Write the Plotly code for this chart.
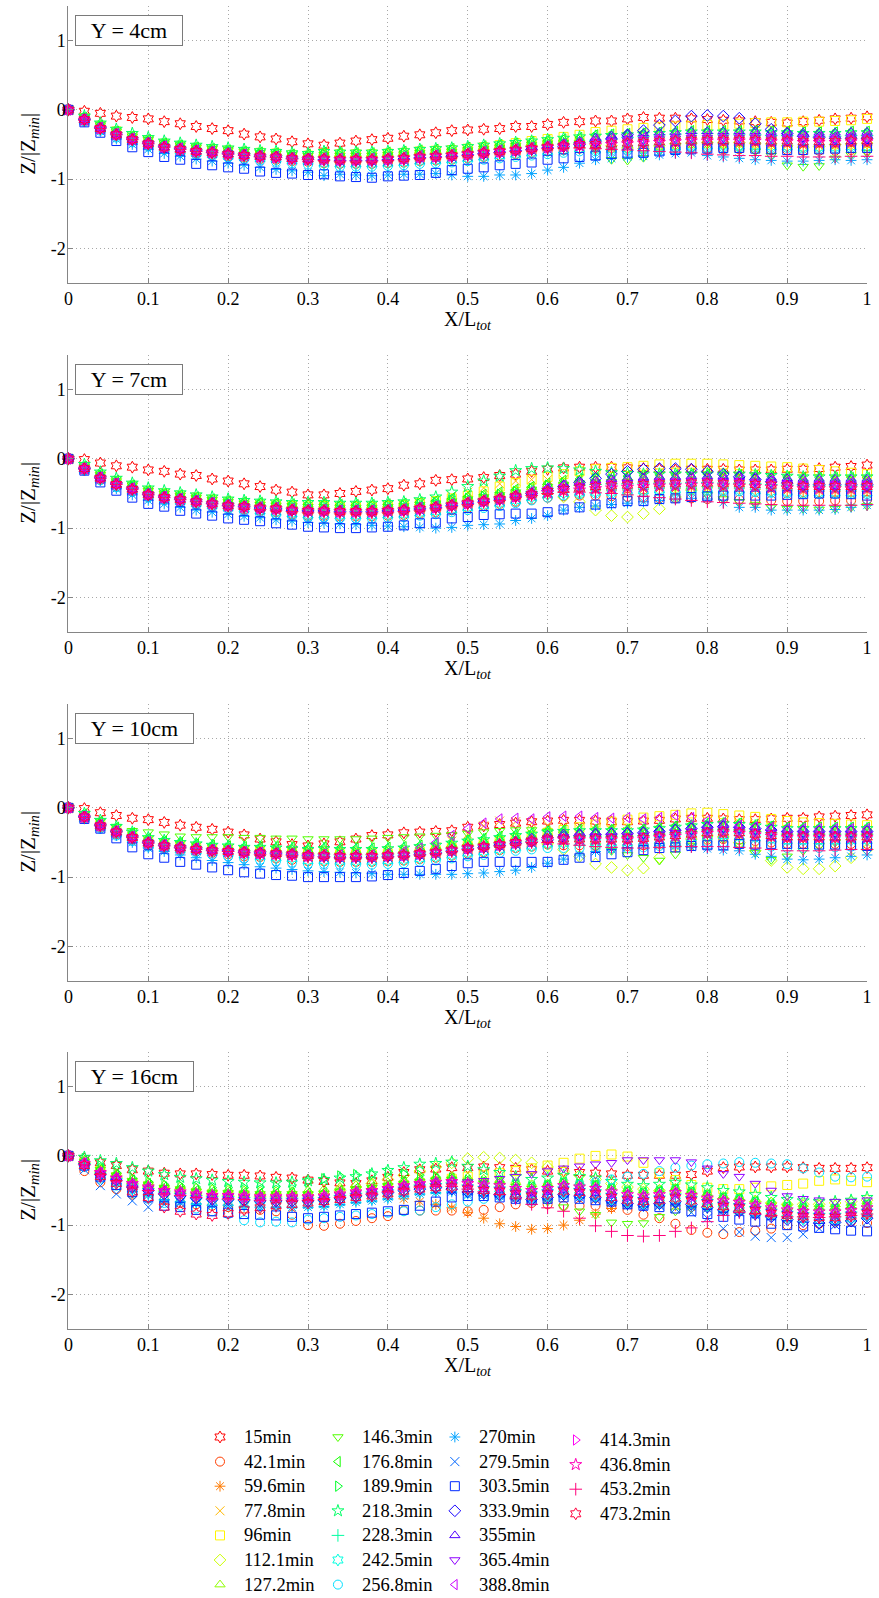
import plotly.graph_objects as go

# Sampling positions along the flume, X / L_tot
X_POS = [0, 0.02, 0.04, 0.06, 0.08, 0.10, 0.12, 0.14, 0.16, 0.18, 0.20,
         0.22, 0.24, 0.26, 0.28, 0.30, 0.32, 0.34, 0.36, 0.38, 0.40,
         0.42, 0.44, 0.46, 0.48, 0.50, 0.52, 0.54, 0.56, 0.58, 0.60,
         0.62, 0.64, 0.66, 0.68, 0.70, 0.72, 0.74, 0.76, 0.78, 0.80,
         0.82, 0.84, 0.86, 0.88, 0.90, 0.92, 0.94, 0.96, 0.98, 1.00]

TIMES = ["15min", "42.1min", "59.6min", "77.8min", "96min", "112.1min", "127.2min",
         "146.3min", "176.8min", "189.9min", "218.3min", "228.3min", "242.5min", "256.8min",
         "270min", "279.5min", "303.5min", "333.9min", "355min", "365.4min", "388.8min",
         "414.3min", "436.8min", "453.2min", "473.2min"]

SYMBOLS = ["hexagram-open", "circle-open", "asterisk-open", "x-thin-open", "square-open",
           "diamond-open", "triangle-up-open", "triangle-down-open", "triangle-left-open",
           "triangle-right-open", "star-open", "cross-thin-open", "hexagram-open", "circle-open",
           "asterisk-open", "x-thin-open", "square-open", "diamond-open", "triangle-up-open",
           "triangle-down-open", "triangle-left-open", "triangle-right-open", "star-open",
           "cross-thin-open", "hexagram-open"]

COLORS = ["#ff0000", "#ff3d00", "#ff7a00", "#ffb800", "#fff500", "#ccff00", "#8fff00",
          "#52ff00", "#14ff00", "#00ff29", "#00ff66", "#00ffa3", "#00ffe0", "#00e0ff",
          "#00a3ff", "#0066ff", "#0029ff", "#1400ff", "#5200ff", "#8f00ff", "#cc00ff",
          "#ff00f5", "#ff00b8", "#ff007a", "#ff003d"]

PANEL_LABELS = ["Y = 4cm", "Y = 7cm", "Y = 10cm", "Y = 16cm"]

Z_Y4 = [
    [0, -0.02, -0.05, -0.09, -0.11, -0.13, -0.17, -0.20, -0.24, -0.27, -0.30, -0.35, -0.39, -0.42, -0.46, -0.49, -0.51, -0.48, -0.45, -0.43, -0.41, -0.38, -0.36, -0.33, -0.30, -0.29, -0.28, -0.27, -0.24, -0.24, -0.21, -0.18, -0.17, -0.16, -0.16, -0.13, -0.11, -0.12, -0.12, -0.13, -0.14, -0.15, -0.16, -0.17, -0.18, -0.19, -0.17, -0.15, -0.13, -0.12, -0.10],
    [0, -0.16, -0.28, -0.37, -0.44, -0.52, -0.57, -0.60, -0.63, -0.65, -0.67, -0.69, -0.71, -0.72, -0.74, -0.75, -0.77, -0.78, -0.78, -0.78, -0.77, -0.76, -0.74, -0.73, -0.72, -0.70, -0.68, -0.66, -0.64, -0.62, -0.60, -0.58, -0.56, -0.55, -0.55, -0.55, -0.55, -0.54, -0.54, -0.55, -0.56, -0.57, -0.57, -0.57, -0.58, -0.58, -0.59, -0.59, -0.59, -0.58, -0.58],
    [0, -0.13, -0.25, -0.35, -0.43, -0.49, -0.53, -0.57, -0.59, -0.62, -0.63, -0.66, -0.67, -0.69, -0.70, -0.72, -0.74, -0.75, -0.75, -0.75, -0.74, -0.73, -0.71, -0.70, -0.69, -0.67, -0.65, -0.63, -0.61, -0.59, -0.57, -0.55, -0.53, -0.56, -0.55, -0.54, -0.53, -0.52, -0.51, -0.50, -0.50, -0.50, -0.50, -0.50, -0.51, -0.51, -0.52, -0.52, -0.52, -0.51, -0.51],
    [0, -0.12, -0.23, -0.32, -0.39, -0.45, -0.50, -0.53, -0.56, -0.58, -0.60, -0.62, -0.64, -0.65, -0.67, -0.68, -0.66, -0.67, -0.67, -0.67, -0.66, -0.65, -0.63, -0.62, -0.61, -0.59, -0.57, -0.55, -0.53, -0.51, -0.49, -0.47, -0.45, -0.41, -0.40, -0.39, -0.38, -0.37, -0.36, -0.35, -0.35, -0.35, -0.35, -0.35, -0.36, -0.36, -0.37, -0.37, -0.37, -0.36, -0.36],
    [0, -0.12, -0.23, -0.31, -0.38, -0.44, -0.49, -0.52, -0.55, -0.57, -0.59, -0.61, -0.62, -0.63, -0.65, -0.66, -0.63, -0.64, -0.64, -0.64, -0.63, -0.62, -0.60, -0.59, -0.58, -0.56, -0.54, -0.51, -0.48, -0.45, -0.42, -0.39, -0.36, -0.32, -0.30, -0.28, -0.26, -0.25, -0.24, -0.23, -0.22, -0.21, -0.20, -0.19, -0.18, -0.18, -0.17, -0.17, -0.16, -0.15, -0.13],
    [0, -0.13, -0.24, -0.33, -0.40, -0.46, -0.51, -0.54, -0.57, -0.59, -0.61, -0.63, -0.65, -0.66, -0.68, -0.69, -0.67, -0.68, -0.68, -0.68, -0.67, -0.66, -0.64, -0.63, -0.62, -0.60, -0.58, -0.56, -0.54, -0.52, -0.50, -0.49, -0.48, -0.50, -0.52, -0.55, -0.56, -0.52, -0.49, -0.48, -0.47, -0.47, -0.47, -0.48, -0.49, -0.52, -0.54, -0.53, -0.50, -0.49, -0.48],
    [0, -0.10, -0.21, -0.30, -0.37, -0.43, -0.47, -0.50, -0.53, -0.55, -0.57, -0.59, -0.61, -0.62, -0.64, -0.65, -0.62, -0.63, -0.63, -0.63, -0.62, -0.61, -0.59, -0.58, -0.57, -0.55, -0.53, -0.51, -0.49, -0.47, -0.45, -0.43, -0.41, -0.40, -0.40, -0.39, -0.38, -0.37, -0.36, -0.36, -0.36, -0.36, -0.36, -0.36, -0.37, -0.37, -0.38, -0.38, -0.38, -0.37, -0.37],
    [0, -0.11, -0.22, -0.31, -0.38, -0.43, -0.48, -0.51, -0.54, -0.56, -0.58, -0.60, -0.62, -0.63, -0.65, -0.66, -0.65, -0.66, -0.66, -0.66, -0.65, -0.64, -0.62, -0.61, -0.60, -0.58, -0.56, -0.54, -0.52, -0.50, -0.48, -0.47, -0.48, -0.55, -0.72, -0.73, -0.69, -0.60, -0.52, -0.50, -0.50, -0.52, -0.55, -0.60, -0.66, -0.80, -0.82, -0.81, -0.70, -0.65, -0.62],
    [0, -0.11, -0.22, -0.31, -0.38, -0.43, -0.48, -0.51, -0.54, -0.56, -0.58, -0.60, -0.61, -0.62, -0.64, -0.64, -0.61, -0.62, -0.62, -0.62, -0.61, -0.60, -0.58, -0.57, -0.56, -0.54, -0.52, -0.50, -0.48, -0.46, -0.44, -0.42, -0.40, -0.36, -0.35, -0.34, -0.33, -0.32, -0.31, -0.30, -0.30, -0.30, -0.30, -0.30, -0.31, -0.31, -0.32, -0.32, -0.32, -0.31, -0.31],
    [0, -0.12, -0.23, -0.32, -0.39, -0.44, -0.49, -0.52, -0.55, -0.57, -0.59, -0.61, -0.63, -0.64, -0.66, -0.67, -0.64, -0.65, -0.65, -0.65, -0.64, -0.63, -0.61, -0.60, -0.59, -0.57, -0.55, -0.53, -0.51, -0.49, -0.47, -0.45, -0.43, -0.40, -0.39, -0.38, -0.37, -0.36, -0.35, -0.34, -0.34, -0.34, -0.34, -0.34, -0.35, -0.35, -0.36, -0.36, -0.36, -0.35, -0.35],
    [0, -0.09, -0.19, -0.28, -0.34, -0.40, -0.45, -0.48, -0.51, -0.53, -0.55, -0.57, -0.59, -0.60, -0.62, -0.63, -0.60, -0.61, -0.61, -0.61, -0.60, -0.59, -0.57, -0.56, -0.55, -0.53, -0.51, -0.49, -0.47, -0.45, -0.43, -0.41, -0.39, -0.38, -0.37, -0.36, -0.35, -0.34, -0.33, -0.32, -0.32, -0.32, -0.32, -0.32, -0.33, -0.33, -0.34, -0.34, -0.34, -0.33, -0.33],
    [0, -0.13, -0.25, -0.33, -0.40, -0.46, -0.51, -0.54, -0.57, -0.59, -0.61, -0.63, -0.65, -0.66, -0.68, -0.69, -0.68, -0.69, -0.69, -0.69, -0.68, -0.67, -0.65, -0.64, -0.63, -0.61, -0.59, -0.57, -0.55, -0.53, -0.51, -0.49, -0.47, -0.44, -0.42, -0.40, -0.38, -0.36, -0.35, -0.34, -0.34, -0.35, -0.35, -0.36, -0.37, -0.37, -0.38, -0.38, -0.38, -0.37, -0.37],
    [0, -0.16, -0.28, -0.38, -0.45, -0.51, -0.56, -0.59, -0.62, -0.64, -0.66, -0.68, -0.70, -0.71, -0.73, -0.74, -0.77, -0.78, -0.78, -0.78, -0.77, -0.76, -0.74, -0.73, -0.72, -0.70, -0.68, -0.66, -0.64, -0.62, -0.60, -0.58, -0.56, -0.58, -0.57, -0.56, -0.55, -0.54, -0.53, -0.52, -0.52, -0.52, -0.52, -0.52, -0.53, -0.53, -0.54, -0.54, -0.54, -0.53, -0.53],
    [0, -0.17, -0.30, -0.40, -0.47, -0.53, -0.58, -0.62, -0.65, -0.67, -0.69, -0.71, -0.73, -0.75, -0.77, -0.79, -0.81, -0.82, -0.82, -0.82, -0.81, -0.80, -0.78, -0.77, -0.76, -0.74, -0.72, -0.70, -0.68, -0.66, -0.64, -0.62, -0.60, -0.60, -0.59, -0.58, -0.57, -0.56, -0.55, -0.54, -0.54, -0.54, -0.54, -0.54, -0.55, -0.55, -0.56, -0.56, -0.56, -0.55, -0.55],
    [0, -0.17, -0.31, -0.42, -0.50, -0.57, -0.63, -0.67, -0.71, -0.74, -0.77, -0.80, -0.83, -0.86, -0.88, -0.90, -0.95, -0.93, -0.94, -0.95, -0.94, -0.93, -0.93, -0.92, -0.94, -0.96, -0.96, -0.94, -0.94, -0.92, -0.87, -0.83, -0.77, -0.72, -0.70, -0.68, -0.67, -0.65, -0.63, -0.62, -0.66, -0.68, -0.70, -0.72, -0.73, -0.74, -0.74, -0.73, -0.72, -0.73, -0.72],
    [0, -0.15, -0.28, -0.37, -0.44, -0.50, -0.55, -0.58, -0.61, -0.63, -0.65, -0.67, -0.69, -0.70, -0.72, -0.73, -0.74, -0.75, -0.75, -0.75, -0.74, -0.73, -0.71, -0.70, -0.69, -0.67, -0.65, -0.63, -0.61, -0.59, -0.57, -0.55, -0.53, -0.53, -0.52, -0.51, -0.50, -0.49, -0.48, -0.47, -0.47, -0.47, -0.47, -0.47, -0.48, -0.48, -0.49, -0.49, -0.49, -0.48, -0.48],
    [0, -0.18, -0.33, -0.45, -0.54, -0.61, -0.68, -0.72, -0.78, -0.80, -0.83, -0.85, -0.89, -0.91, -0.92, -0.94, -0.93, -0.96, -0.97, -0.98, -0.96, -0.95, -0.94, -0.91, -0.87, -0.85, -0.83, -0.80, -0.78, -0.76, -0.72, -0.70, -0.68, -0.66, -0.64, -0.63, -0.62, -0.60, -0.58, -0.57, -0.56, -0.55, -0.55, -0.56, -0.57, -0.58, -0.58, -0.57, -0.56, -0.55, -0.55],
    [0, -0.14, -0.26, -0.35, -0.42, -0.48, -0.53, -0.56, -0.59, -0.61, -0.63, -0.65, -0.67, -0.68, -0.70, -0.71, -0.72, -0.73, -0.73, -0.73, -0.72, -0.71, -0.69, -0.68, -0.67, -0.65, -0.63, -0.61, -0.59, -0.57, -0.55, -0.53, -0.50, -0.46, -0.42, -0.36, -0.30, -0.22, -0.16, -0.09, -0.08, -0.09, -0.12, -0.20, -0.28, -0.34, -0.38, -0.40, -0.41, -0.41, -0.41],
    [0, -0.15, -0.27, -0.36, -0.43, -0.49, -0.54, -0.57, -0.60, -0.62, -0.64, -0.66, -0.68, -0.69, -0.71, -0.72, -0.69, -0.70, -0.70, -0.70, -0.69, -0.68, -0.66, -0.65, -0.64, -0.62, -0.60, -0.58, -0.56, -0.54, -0.51, -0.48, -0.45, -0.40, -0.37, -0.35, -0.34, -0.33, -0.32, -0.31, -0.31, -0.31, -0.31, -0.31, -0.32, -0.32, -0.33, -0.33, -0.33, -0.32, -0.32],
    [0, -0.14, -0.26, -0.35, -0.42, -0.48, -0.53, -0.56, -0.59, -0.61, -0.63, -0.65, -0.67, -0.68, -0.70, -0.71, -0.71, -0.72, -0.72, -0.72, -0.71, -0.70, -0.68, -0.67, -0.66, -0.64, -0.62, -0.60, -0.58, -0.56, -0.54, -0.52, -0.50, -0.46, -0.45, -0.44, -0.43, -0.42, -0.41, -0.40, -0.40, -0.40, -0.40, -0.40, -0.41, -0.41, -0.42, -0.42, -0.42, -0.41, -0.41],
    [0, -0.13, -0.25, -0.34, -0.41, -0.47, -0.52, -0.55, -0.58, -0.60, -0.62, -0.64, -0.66, -0.67, -0.69, -0.70, -0.69, -0.70, -0.70, -0.70, -0.69, -0.68, -0.66, -0.65, -0.64, -0.62, -0.60, -0.58, -0.56, -0.54, -0.52, -0.50, -0.48, -0.43, -0.42, -0.41, -0.40, -0.39, -0.38, -0.37, -0.37, -0.37, -0.37, -0.37, -0.38, -0.38, -0.39, -0.39, -0.39, -0.38, -0.38],
    [0, -0.14, -0.27, -0.36, -0.43, -0.49, -0.54, -0.57, -0.60, -0.62, -0.64, -0.66, -0.68, -0.69, -0.71, -0.72, -0.72, -0.73, -0.73, -0.73, -0.72, -0.71, -0.69, -0.68, -0.67, -0.65, -0.63, -0.61, -0.59, -0.57, -0.55, -0.53, -0.51, -0.47, -0.46, -0.45, -0.44, -0.43, -0.42, -0.41, -0.41, -0.41, -0.41, -0.41, -0.42, -0.42, -0.43, -0.43, -0.43, -0.42, -0.42],
    [0, -0.15, -0.27, -0.36, -0.43, -0.49, -0.54, -0.57, -0.60, -0.62, -0.64, -0.66, -0.68, -0.69, -0.71, -0.72, -0.71, -0.72, -0.72, -0.72, -0.71, -0.70, -0.68, -0.67, -0.66, -0.64, -0.62, -0.60, -0.58, -0.56, -0.54, -0.53, -0.52, -0.51, -0.50, -0.49, -0.48, -0.47, -0.46, -0.45, -0.45, -0.45, -0.45, -0.45, -0.46, -0.46, -0.47, -0.47, -0.47, -0.46, -0.46],
    [0, -0.15, -0.27, -0.36, -0.43, -0.49, -0.54, -0.57, -0.60, -0.62, -0.64, -0.66, -0.68, -0.69, -0.71, -0.72, -0.73, -0.74, -0.74, -0.74, -0.73, -0.72, -0.70, -0.69, -0.68, -0.66, -0.64, -0.62, -0.60, -0.58, -0.56, -0.55, -0.55, -0.56, -0.57, -0.58, -0.59, -0.60, -0.61, -0.62, -0.64, -0.65, -0.66, -0.66, -0.67, -0.67, -0.68, -0.68, -0.68, -0.67, -0.67],
    [0, -0.14, -0.27, -0.36, -0.43, -0.49, -0.54, -0.57, -0.60, -0.62, -0.64, -0.66, -0.67, -0.68, -0.70, -0.71, -0.71, -0.72, -0.72, -0.72, -0.71, -0.70, -0.68, -0.67, -0.66, -0.64, -0.62, -0.60, -0.58, -0.56, -0.54, -0.52, -0.50, -0.50, -0.49, -0.48, -0.47, -0.46, -0.45, -0.44, -0.44, -0.44, -0.44, -0.44, -0.45, -0.45, -0.46, -0.46, -0.46, -0.45, -0.45],
]

Z_Y7 = [
    [0, -0.01, -0.06, -0.10, -0.12, -0.16, -0.18, -0.22, -0.24, -0.29, -0.32, -0.36, -0.40, -0.45, -0.48, -0.52, -0.52, -0.50, -0.47, -0.45, -0.43, -0.38, -0.36, -0.31, -0.30, -0.29, -0.27, -0.24, -0.22, -0.18, -0.15, -0.13, -0.12, -0.12, -0.12, -0.13, -0.14, -0.15, -0.16, -0.15, -0.15, -0.15, -0.16, -0.16, -0.16, -0.15, -0.15, -0.14, -0.12, -0.11, -0.09],
    [0, -0.16, -0.30, -0.40, -0.47, -0.55, -0.59, -0.62, -0.65, -0.68, -0.71, -0.73, -0.75, -0.77, -0.80, -0.82, -0.82, -0.83, -0.83, -0.83, -0.82, -0.81, -0.79, -0.77, -0.74, -0.71, -0.68, -0.65, -0.62, -0.59, -0.56, -0.54, -0.53, -0.53, -0.54, -0.55, -0.56, -0.57, -0.57, -0.57, -0.58, -0.58, -0.59, -0.60, -0.60, -0.61, -0.61, -0.61, -0.60, -0.60, -0.59],
    [0, -0.15, -0.28, -0.37, -0.44, -0.52, -0.56, -0.59, -0.62, -0.65, -0.69, -0.72, -0.74, -0.75, -0.77, -0.78, -0.78, -0.79, -0.79, -0.79, -0.78, -0.77, -0.75, -0.73, -0.70, -0.67, -0.64, -0.61, -0.57, -0.53, -0.50, -0.48, -0.47, -0.46, -0.46, -0.45, -0.44, -0.43, -0.43, -0.42, -0.42, -0.43, -0.43, -0.44, -0.45, -0.46, -0.47, -0.47, -0.47, -0.47, -0.47],
    [0, -0.12, -0.24, -0.33, -0.40, -0.48, -0.52, -0.55, -0.58, -0.61, -0.64, -0.65, -0.67, -0.68, -0.69, -0.70, -0.69, -0.70, -0.70, -0.70, -0.69, -0.68, -0.65, -0.60, -0.54, -0.48, -0.42, -0.36, -0.32, -0.30, -0.30, -0.30, -0.29, -0.28, -0.28, -0.27, -0.26, -0.25, -0.25, -0.24, -0.24, -0.25, -0.25, -0.26, -0.27, -0.28, -0.29, -0.29, -0.29, -0.29, -0.29],
    [0, -0.12, -0.24, -0.32, -0.39, -0.47, -0.50, -0.53, -0.56, -0.59, -0.62, -0.64, -0.66, -0.67, -0.68, -0.69, -0.68, -0.69, -0.69, -0.69, -0.68, -0.67, -0.64, -0.61, -0.57, -0.53, -0.47, -0.40, -0.35, -0.30, -0.26, -0.22, -0.18, -0.15, -0.13, -0.12, -0.10, -0.08, -0.07, -0.07, -0.07, -0.08, -0.09, -0.10, -0.11, -0.12, -0.14, -0.16, -0.18, -0.20, -0.22],
    [0, -0.13, -0.25, -0.34, -0.41, -0.49, -0.53, -0.56, -0.59, -0.62, -0.65, -0.67, -0.69, -0.70, -0.72, -0.73, -0.73, -0.74, -0.74, -0.74, -0.73, -0.72, -0.70, -0.68, -0.65, -0.62, -0.59, -0.56, -0.52, -0.50, -0.50, -0.55, -0.62, -0.74, -0.82, -0.84, -0.79, -0.72, -0.55, -0.45, -0.40, -0.38, -0.37, -0.37, -0.38, -0.39, -0.40, -0.40, -0.40, -0.40, -0.40],
    [0, -0.10, -0.22, -0.31, -0.37, -0.45, -0.49, -0.52, -0.55, -0.58, -0.60, -0.62, -0.63, -0.64, -0.66, -0.66, -0.66, -0.67, -0.67, -0.67, -0.66, -0.65, -0.63, -0.61, -0.58, -0.55, -0.52, -0.49, -0.45, -0.41, -0.37, -0.33, -0.31, -0.30, -0.30, -0.30, -0.29, -0.28, -0.28, -0.27, -0.27, -0.28, -0.28, -0.29, -0.30, -0.31, -0.32, -0.32, -0.32, -0.32, -0.32],
    [0, -0.11, -0.23, -0.32, -0.38, -0.46, -0.50, -0.53, -0.56, -0.59, -0.62, -0.64, -0.66, -0.67, -0.68, -0.69, -0.69, -0.70, -0.70, -0.70, -0.69, -0.68, -0.66, -0.64, -0.61, -0.58, -0.55, -0.52, -0.48, -0.44, -0.40, -0.37, -0.35, -0.34, -0.33, -0.33, -0.34, -0.36, -0.40, -0.46, -0.52, -0.58, -0.62, -0.66, -0.70, -0.72, -0.72, -0.73, -0.72, -0.70, -0.68],
    [0, -0.11, -0.22, -0.31, -0.38, -0.46, -0.50, -0.52, -0.55, -0.58, -0.61, -0.62, -0.63, -0.64, -0.65, -0.65, -0.65, -0.66, -0.66, -0.66, -0.65, -0.64, -0.62, -0.60, -0.57, -0.54, -0.51, -0.48, -0.44, -0.40, -0.35, -0.31, -0.29, -0.27, -0.26, -0.25, -0.24, -0.23, -0.23, -0.22, -0.22, -0.23, -0.23, -0.24, -0.25, -0.26, -0.27, -0.27, -0.27, -0.27, -0.27],
    [0, -0.12, -0.23, -0.32, -0.39, -0.47, -0.51, -0.54, -0.57, -0.60, -0.63, -0.65, -0.66, -0.67, -0.68, -0.69, -0.68, -0.69, -0.69, -0.69, -0.68, -0.67, -0.65, -0.63, -0.60, -0.57, -0.54, -0.51, -0.47, -0.43, -0.38, -0.35, -0.33, -0.31, -0.30, -0.29, -0.28, -0.27, -0.27, -0.26, -0.26, -0.27, -0.27, -0.28, -0.29, -0.30, -0.31, -0.31, -0.31, -0.31, -0.31],
    [0, -0.08, -0.19, -0.28, -0.35, -0.42, -0.46, -0.49, -0.52, -0.55, -0.58, -0.60, -0.61, -0.62, -0.63, -0.63, -0.63, -0.64, -0.64, -0.64, -0.63, -0.62, -0.59, -0.55, -0.48, -0.40, -0.32, -0.25, -0.17, -0.14, -0.13, -0.14, -0.16, -0.18, -0.20, -0.21, -0.22, -0.22, -0.22, -0.22, -0.22, -0.22, -0.22, -0.23, -0.24, -0.25, -0.26, -0.26, -0.26, -0.26, -0.26],
    [0, -0.13, -0.25, -0.34, -0.41, -0.49, -0.53, -0.56, -0.59, -0.62, -0.64, -0.66, -0.68, -0.69, -0.71, -0.72, -0.72, -0.73, -0.73, -0.73, -0.72, -0.71, -0.69, -0.67, -0.64, -0.61, -0.58, -0.55, -0.51, -0.47, -0.43, -0.40, -0.38, -0.37, -0.36, -0.36, -0.35, -0.35, -0.35, -0.34, -0.34, -0.35, -0.35, -0.36, -0.37, -0.38, -0.39, -0.39, -0.39, -0.39, -0.39],
    [0, -0.16, -0.30, -0.39, -0.46, -0.54, -0.58, -0.61, -0.64, -0.67, -0.70, -0.72, -0.75, -0.77, -0.79, -0.81, -0.81, -0.82, -0.82, -0.82, -0.81, -0.80, -0.78, -0.76, -0.73, -0.70, -0.67, -0.64, -0.60, -0.56, -0.52, -0.50, -0.49, -0.48, -0.48, -0.47, -0.46, -0.45, -0.45, -0.44, -0.44, -0.45, -0.45, -0.46, -0.47, -0.48, -0.49, -0.49, -0.49, -0.49, -0.49],
    [0, -0.17, -0.31, -0.41, -0.48, -0.56, -0.60, -0.64, -0.67, -0.70, -0.73, -0.76, -0.79, -0.81, -0.83, -0.85, -0.85, -0.86, -0.86, -0.86, -0.85, -0.84, -0.82, -0.80, -0.77, -0.74, -0.71, -0.68, -0.64, -0.60, -0.56, -0.53, -0.51, -0.50, -0.50, -0.49, -0.48, -0.47, -0.47, -0.46, -0.46, -0.47, -0.47, -0.48, -0.49, -0.50, -0.51, -0.51, -0.51, -0.51, -0.51],
    [0, -0.16, -0.31, -0.43, -0.52, -0.60, -0.65, -0.70, -0.74, -0.77, -0.80, -0.83, -0.85, -0.88, -0.90, -0.92, -0.93, -0.94, -0.95, -0.96, -0.97, -0.98, -0.99, -1.00, -0.99, -0.96, -0.95, -0.94, -0.89, -0.86, -0.82, -0.74, -0.70, -0.68, -0.66, -0.64, -0.62, -0.60, -0.58, -0.57, -0.58, -0.63, -0.70, -0.70, -0.74, -0.74, -0.74, -0.74, -0.73, -0.70, -0.67],
    [0, -0.15, -0.29, -0.38, -0.45, -0.53, -0.57, -0.60, -0.63, -0.66, -0.69, -0.71, -0.73, -0.74, -0.77, -0.78, -0.78, -0.79, -0.79, -0.79, -0.78, -0.77, -0.75, -0.73, -0.70, -0.67, -0.64, -0.61, -0.57, -0.53, -0.49, -0.46, -0.45, -0.44, -0.43, -0.42, -0.41, -0.40, -0.40, -0.39, -0.39, -0.40, -0.40, -0.41, -0.42, -0.43, -0.44, -0.44, -0.44, -0.44, -0.44],
    [0, -0.17, -0.34, -0.46, -0.56, -0.65, -0.69, -0.75, -0.79, -0.82, -0.86, -0.88, -0.90, -0.93, -0.95, -0.98, -0.99, -1.00, -1.00, -0.99, -0.98, -0.96, -0.93, -0.92, -0.86, -0.84, -0.81, -0.80, -0.79, -0.79, -0.77, -0.73, -0.70, -0.66, -0.64, -0.61, -0.61, -0.58, -0.57, -0.55, -0.54, -0.53, -0.53, -0.53, -0.53, -0.52, -0.51, -0.50, -0.50, -0.51, -0.53],
    [0, -0.14, -0.27, -0.36, -0.43, -0.51, -0.55, -0.58, -0.61, -0.64, -0.67, -0.69, -0.71, -0.72, -0.74, -0.75, -0.75, -0.76, -0.76, -0.76, -0.75, -0.74, -0.72, -0.70, -0.67, -0.64, -0.61, -0.58, -0.54, -0.50, -0.46, -0.40, -0.34, -0.28, -0.22, -0.18, -0.15, -0.14, -0.14, -0.15, -0.18, -0.22, -0.26, -0.30, -0.33, -0.35, -0.37, -0.37, -0.37, -0.37, -0.37],
    [0, -0.15, -0.28, -0.37, -0.44, -0.52, -0.56, -0.59, -0.62, -0.65, -0.68, -0.70, -0.72, -0.72, -0.73, -0.73, -0.73, -0.74, -0.74, -0.74, -0.73, -0.72, -0.70, -0.68, -0.65, -0.62, -0.59, -0.56, -0.52, -0.48, -0.42, -0.37, -0.34, -0.31, -0.29, -0.28, -0.27, -0.26, -0.26, -0.25, -0.25, -0.25, -0.25, -0.26, -0.27, -0.28, -0.29, -0.29, -0.29, -0.29, -0.29],
    [0, -0.14, -0.27, -0.36, -0.43, -0.51, -0.55, -0.58, -0.61, -0.64, -0.67, -0.69, -0.71, -0.72, -0.74, -0.75, -0.75, -0.76, -0.76, -0.76, -0.75, -0.74, -0.72, -0.70, -0.67, -0.64, -0.61, -0.58, -0.54, -0.50, -0.45, -0.41, -0.39, -0.37, -0.36, -0.35, -0.34, -0.33, -0.33, -0.32, -0.32, -0.33, -0.33, -0.34, -0.35, -0.36, -0.37, -0.37, -0.37, -0.37, -0.37],
    [0, -0.13, -0.26, -0.35, -0.42, -0.50, -0.54, -0.57, -0.60, -0.63, -0.66, -0.68, -0.69, -0.70, -0.72, -0.73, -0.73, -0.74, -0.74, -0.74, -0.73, -0.72, -0.70, -0.68, -0.65, -0.62, -0.59, -0.56, -0.52, -0.47, -0.42, -0.38, -0.36, -0.34, -0.33, -0.32, -0.31, -0.30, -0.30, -0.29, -0.29, -0.30, -0.30, -0.31, -0.32, -0.33, -0.34, -0.34, -0.34, -0.34, -0.34],
    [0, -0.14, -0.27, -0.36, -0.44, -0.52, -0.56, -0.59, -0.62, -0.65, -0.68, -0.70, -0.72, -0.73, -0.75, -0.76, -0.76, -0.77, -0.77, -0.77, -0.76, -0.75, -0.73, -0.71, -0.68, -0.65, -0.62, -0.59, -0.55, -0.51, -0.47, -0.43, -0.41, -0.39, -0.38, -0.37, -0.36, -0.35, -0.35, -0.34, -0.34, -0.35, -0.35, -0.36, -0.37, -0.38, -0.39, -0.39, -0.39, -0.39, -0.39],
    [0, -0.15, -0.28, -0.37, -0.44, -0.52, -0.56, -0.59, -0.62, -0.65, -0.68, -0.70, -0.71, -0.72, -0.74, -0.75, -0.75, -0.76, -0.76, -0.76, -0.75, -0.74, -0.72, -0.70, -0.67, -0.64, -0.61, -0.58, -0.55, -0.52, -0.49, -0.46, -0.45, -0.43, -0.42, -0.41, -0.40, -0.39, -0.39, -0.38, -0.38, -0.39, -0.39, -0.40, -0.41, -0.42, -0.43, -0.43, -0.43, -0.43, -0.43],
    [0, -0.15, -0.28, -0.37, -0.44, -0.52, -0.56, -0.59, -0.62, -0.65, -0.68, -0.71, -0.73, -0.74, -0.76, -0.77, -0.77, -0.78, -0.78, -0.78, -0.77, -0.76, -0.74, -0.72, -0.69, -0.66, -0.63, -0.60, -0.56, -0.53, -0.50, -0.48, -0.48, -0.49, -0.50, -0.52, -0.54, -0.56, -0.58, -0.60, -0.62, -0.63, -0.64, -0.65, -0.66, -0.67, -0.67, -0.67, -0.67, -0.67, -0.66],
    [0, -0.14, -0.28, -0.37, -0.44, -0.52, -0.56, -0.59, -0.62, -0.65, -0.68, -0.69, -0.71, -0.72, -0.74, -0.75, -0.75, -0.76, -0.76, -0.76, -0.75, -0.74, -0.72, -0.70, -0.67, -0.64, -0.61, -0.58, -0.54, -0.51, -0.47, -0.44, -0.42, -0.40, -0.39, -0.38, -0.37, -0.36, -0.36, -0.35, -0.35, -0.36, -0.36, -0.37, -0.38, -0.39, -0.40, -0.40, -0.40, -0.40, -0.40],
]

Z_Y10 = [
    [0, -0.01, -0.07, -0.11, -0.15, -0.17, -0.21, -0.25, -0.28, -0.31, -0.35, -0.39, -0.45, -0.49, -0.53, -0.55, -0.52, -0.49, -0.45, -0.40, -0.39, -0.36, -0.35, -0.34, -0.33, -0.28, -0.26, -0.24, -0.22, -0.20, -0.19, -0.18, -0.18, -0.19, -0.20, -0.20, -0.19, -0.18, -0.16, -0.15, -0.15, -0.16, -0.17, -0.17, -0.16, -0.15, -0.15, -0.13, -0.12, -0.11, -0.10],
    [0, -0.15, -0.28, -0.38, -0.46, -0.54, -0.58, -0.61, -0.63, -0.65, -0.67, -0.70, -0.71, -0.73, -0.75, -0.77, -0.77, -0.78, -0.78, -0.78, -0.77, -0.76, -0.74, -0.72, -0.69, -0.66, -0.64, -0.61, -0.58, -0.56, -0.53, -0.54, -0.54, -0.55, -0.55, -0.55, -0.54, -0.52, -0.50, -0.48, -0.46, -0.45, -0.46, -0.48, -0.50, -0.52, -0.52, -0.52, -0.52, -0.52, -0.52],
    [0, -0.14, -0.26, -0.35, -0.43, -0.51, -0.55, -0.58, -0.60, -0.62, -0.63, -0.66, -0.68, -0.69, -0.70, -0.72, -0.72, -0.73, -0.73, -0.73, -0.72, -0.71, -0.69, -0.67, -0.64, -0.61, -0.59, -0.56, -0.53, -0.51, -0.48, -0.48, -0.48, -0.49, -0.49, -0.49, -0.48, -0.46, -0.44, -0.42, -0.40, -0.39, -0.40, -0.42, -0.44, -0.46, -0.46, -0.46, -0.46, -0.46, -0.46],
    [0, -0.11, -0.22, -0.31, -0.39, -0.47, -0.51, -0.54, -0.56, -0.58, -0.59, -0.60, -0.61, -0.62, -0.63, -0.64, -0.64, -0.64, -0.64, -0.64, -0.63, -0.62, -0.60, -0.56, -0.48, -0.38, -0.26, -0.19, -0.20, -0.22, -0.25, -0.28, -0.30, -0.32, -0.33, -0.34, -0.34, -0.32, -0.30, -0.28, -0.26, -0.25, -0.26, -0.28, -0.30, -0.32, -0.32, -0.32, -0.32, -0.32, -0.32],
    [0, -0.12, -0.24, -0.33, -0.41, -0.48, -0.52, -0.55, -0.57, -0.59, -0.60, -0.62, -0.63, -0.64, -0.65, -0.66, -0.66, -0.67, -0.67, -0.67, -0.66, -0.65, -0.63, -0.61, -0.58, -0.55, -0.52, -0.48, -0.44, -0.40, -0.36, -0.32, -0.28, -0.24, -0.20, -0.17, -0.14, -0.12, -0.10, -0.08, -0.07, -0.09, -0.11, -0.13, -0.16, -0.19, -0.21, -0.22, -0.23, -0.24, -0.25],
    [0, -0.12, -0.24, -0.33, -0.40, -0.48, -0.52, -0.55, -0.57, -0.59, -0.60, -0.62, -0.63, -0.64, -0.65, -0.66, -0.66, -0.67, -0.67, -0.67, -0.66, -0.65, -0.63, -0.60, -0.57, -0.54, -0.52, -0.50, -0.48, -0.48, -0.52, -0.60, -0.70, -0.81, -0.86, -0.90, -0.87, -0.72, -0.55, -0.45, -0.40, -0.42, -0.50, -0.62, -0.76, -0.86, -0.88, -0.88, -0.84, -0.72, -0.60],
    [0, -0.10, -0.20, -0.29, -0.37, -0.45, -0.49, -0.52, -0.54, -0.56, -0.57, -0.58, -0.59, -0.59, -0.60, -0.61, -0.61, -0.62, -0.62, -0.62, -0.61, -0.60, -0.58, -0.56, -0.53, -0.50, -0.48, -0.45, -0.42, -0.40, -0.37, -0.36, -0.36, -0.37, -0.37, -0.37, -0.36, -0.34, -0.32, -0.30, -0.28, -0.27, -0.28, -0.30, -0.32, -0.34, -0.34, -0.34, -0.34, -0.34, -0.34],
    [0, -0.09, -0.19, -0.27, -0.33, -0.35, -0.38, -0.41, -0.42, -0.42, -0.42, -0.43, -0.43, -0.44, -0.44, -0.45, -0.45, -0.45, -0.45, -0.44, -0.43, -0.42, -0.41, -0.40, -0.39, -0.37, -0.35, -0.33, -0.32, -0.32, -0.34, -0.38, -0.45, -0.55, -0.62, -0.68, -0.72, -0.76, -0.67, -0.55, -0.45, -0.45, -0.55, -0.65, -0.75, -0.70, -0.62, -0.55, -0.50, -0.45, -0.42],
    [0, -0.09, -0.20, -0.28, -0.36, -0.44, -0.48, -0.50, -0.52, -0.54, -0.55, -0.56, -0.56, -0.56, -0.57, -0.58, -0.57, -0.58, -0.58, -0.58, -0.57, -0.56, -0.54, -0.52, -0.49, -0.46, -0.44, -0.41, -0.38, -0.36, -0.33, -0.32, -0.31, -0.31, -0.31, -0.31, -0.30, -0.28, -0.26, -0.24, -0.22, -0.21, -0.22, -0.24, -0.26, -0.28, -0.28, -0.28, -0.28, -0.28, -0.28],
    [0, -0.11, -0.22, -0.31, -0.38, -0.46, -0.50, -0.53, -0.55, -0.57, -0.58, -0.60, -0.61, -0.61, -0.62, -0.63, -0.63, -0.64, -0.64, -0.64, -0.63, -0.62, -0.60, -0.58, -0.55, -0.52, -0.49, -0.46, -0.43, -0.41, -0.38, -0.37, -0.36, -0.35, -0.35, -0.35, -0.34, -0.32, -0.30, -0.28, -0.26, -0.25, -0.26, -0.28, -0.30, -0.32, -0.32, -0.32, -0.32, -0.32, -0.32],
    [0, -0.08, -0.18, -0.27, -0.35, -0.43, -0.47, -0.50, -0.52, -0.54, -0.55, -0.57, -0.57, -0.58, -0.59, -0.60, -0.59, -0.60, -0.60, -0.60, -0.59, -0.58, -0.56, -0.54, -0.51, -0.48, -0.46, -0.43, -0.40, -0.38, -0.35, -0.34, -0.33, -0.33, -0.33, -0.33, -0.32, -0.30, -0.28, -0.26, -0.24, -0.23, -0.24, -0.26, -0.28, -0.30, -0.30, -0.30, -0.30, -0.30, -0.30],
    [0, -0.12, -0.24, -0.33, -0.41, -0.48, -0.52, -0.55, -0.57, -0.59, -0.60, -0.62, -0.63, -0.64, -0.65, -0.67, -0.67, -0.68, -0.68, -0.68, -0.67, -0.66, -0.64, -0.62, -0.59, -0.56, -0.54, -0.51, -0.48, -0.46, -0.43, -0.42, -0.41, -0.41, -0.41, -0.41, -0.40, -0.38, -0.36, -0.34, -0.32, -0.31, -0.32, -0.34, -0.36, -0.38, -0.38, -0.38, -0.38, -0.38, -0.38],
    [0, -0.15, -0.28, -0.37, -0.45, -0.53, -0.57, -0.60, -0.62, -0.64, -0.65, -0.68, -0.70, -0.72, -0.73, -0.76, -0.76, -0.77, -0.77, -0.77, -0.76, -0.75, -0.73, -0.71, -0.68, -0.65, -0.63, -0.60, -0.57, -0.55, -0.52, -0.51, -0.50, -0.50, -0.50, -0.50, -0.49, -0.47, -0.45, -0.43, -0.41, -0.40, -0.41, -0.43, -0.45, -0.47, -0.47, -0.47, -0.47, -0.47, -0.47],
    [0, -0.16, -0.30, -0.40, -0.48, -0.56, -0.60, -0.63, -0.66, -0.68, -0.70, -0.73, -0.75, -0.77, -0.79, -0.81, -0.81, -0.82, -0.82, -0.82, -0.81, -0.80, -0.78, -0.76, -0.73, -0.70, -0.68, -0.65, -0.62, -0.60, -0.58, -0.58, -0.58, -0.58, -0.58, -0.58, -0.57, -0.55, -0.53, -0.51, -0.49, -0.50, -0.52, -0.54, -0.56, -0.58, -0.58, -0.58, -0.57, -0.56, -0.55],
    [0, -0.15, -0.29, -0.40, -0.50, -0.58, -0.63, -0.68, -0.72, -0.76, -0.79, -0.82, -0.85, -0.87, -0.89, -0.91, -0.92, -0.93, -0.94, -0.95, -0.96, -0.96, -0.96, -0.96, -0.96, -0.95, -0.94, -0.92, -0.90, -0.86, -0.80, -0.74, -0.68, -0.63, -0.60, -0.57, -0.55, -0.54, -0.55, -0.57, -0.59, -0.61, -0.62, -0.67, -0.70, -0.74, -0.75, -0.74, -0.72, -0.70, -0.68],
    [0, -0.14, -0.27, -0.36, -0.44, -0.52, -0.56, -0.59, -0.61, -0.63, -0.64, -0.66, -0.67, -0.68, -0.69, -0.71, -0.72, -0.73, -0.73, -0.73, -0.72, -0.71, -0.69, -0.67, -0.64, -0.61, -0.59, -0.56, -0.53, -0.51, -0.48, -0.47, -0.46, -0.46, -0.47, -0.47, -0.46, -0.44, -0.42, -0.40, -0.38, -0.37, -0.38, -0.40, -0.42, -0.44, -0.44, -0.44, -0.44, -0.44, -0.44],
    [0, -0.16, -0.30, -0.44, -0.57, -0.67, -0.72, -0.78, -0.82, -0.86, -0.90, -0.93, -0.95, -0.97, -0.98, -1.00, -1.00, -1.00, -1.00, -0.99, -0.97, -0.94, -0.91, -0.88, -0.84, -0.80, -0.78, -0.78, -0.78, -0.78, -0.78, -0.75, -0.72, -0.71, -0.67, -0.64, -0.61, -0.58, -0.57, -0.55, -0.54, -0.54, -0.52, -0.53, -0.52, -0.52, -0.52, -0.53, -0.53, -0.54, -0.55],
    [0, -0.13, -0.25, -0.34, -0.42, -0.50, -0.54, -0.57, -0.59, -0.61, -0.62, -0.64, -0.65, -0.66, -0.67, -0.69, -0.70, -0.71, -0.71, -0.71, -0.70, -0.69, -0.67, -0.65, -0.62, -0.59, -0.57, -0.54, -0.51, -0.49, -0.46, -0.42, -0.40, -0.39, -0.38, -0.37, -0.36, -0.34, -0.32, -0.30, -0.28, -0.27, -0.28, -0.30, -0.32, -0.34, -0.34, -0.34, -0.34, -0.34, -0.34],
    [0, -0.14, -0.26, -0.35, -0.43, -0.51, -0.55, -0.58, -0.60, -0.62, -0.63, -0.65, -0.66, -0.67, -0.68, -0.70, -0.69, -0.70, -0.70, -0.70, -0.69, -0.68, -0.66, -0.64, -0.61, -0.58, -0.55, -0.51, -0.47, -0.43, -0.39, -0.37, -0.36, -0.35, -0.35, -0.35, -0.34, -0.32, -0.30, -0.28, -0.26, -0.25, -0.26, -0.28, -0.30, -0.32, -0.32, -0.32, -0.32, -0.32, -0.32],
    [0, -0.13, -0.25, -0.34, -0.42, -0.50, -0.54, -0.57, -0.59, -0.61, -0.62, -0.64, -0.65, -0.66, -0.67, -0.69, -0.69, -0.70, -0.70, -0.70, -0.69, -0.68, -0.66, -0.64, -0.61, -0.58, -0.56, -0.53, -0.50, -0.47, -0.44, -0.42, -0.41, -0.41, -0.41, -0.41, -0.40, -0.38, -0.36, -0.34, -0.32, -0.31, -0.32, -0.34, -0.36, -0.38, -0.38, -0.38, -0.38, -0.38, -0.38],
    [0, -0.12, -0.24, -0.33, -0.41, -0.49, -0.53, -0.56, -0.58, -0.60, -0.61, -0.63, -0.64, -0.65, -0.66, -0.68, -0.67, -0.68, -0.68, -0.68, -0.66, -0.63, -0.58, -0.50, -0.40, -0.30, -0.22, -0.16, -0.15, -0.16, -0.13, -0.12, -0.12, -0.14, -0.15, -0.14, -0.16, -0.14, -0.11, -0.14, -0.18, -0.22, -0.25, -0.27, -0.28, -0.30, -0.30, -0.30, -0.30, -0.30, -0.30],
    [0, -0.13, -0.26, -0.35, -0.43, -0.51, -0.55, -0.58, -0.60, -0.62, -0.63, -0.65, -0.66, -0.67, -0.68, -0.70, -0.70, -0.71, -0.71, -0.71, -0.70, -0.69, -0.67, -0.65, -0.62, -0.59, -0.57, -0.54, -0.51, -0.49, -0.46, -0.45, -0.44, -0.44, -0.44, -0.44, -0.43, -0.41, -0.39, -0.37, -0.35, -0.34, -0.35, -0.37, -0.39, -0.41, -0.41, -0.41, -0.41, -0.41, -0.41],
    [0, -0.14, -0.26, -0.35, -0.43, -0.51, -0.55, -0.58, -0.60, -0.62, -0.63, -0.65, -0.66, -0.67, -0.68, -0.70, -0.69, -0.70, -0.70, -0.70, -0.69, -0.68, -0.66, -0.64, -0.61, -0.58, -0.56, -0.53, -0.50, -0.48, -0.46, -0.46, -0.46, -0.46, -0.46, -0.46, -0.45, -0.43, -0.41, -0.39, -0.37, -0.36, -0.37, -0.39, -0.41, -0.43, -0.43, -0.43, -0.43, -0.43, -0.43],
    [0, -0.14, -0.26, -0.35, -0.43, -0.51, -0.55, -0.58, -0.60, -0.62, -0.63, -0.65, -0.67, -0.68, -0.69, -0.71, -0.71, -0.72, -0.72, -0.72, -0.71, -0.70, -0.68, -0.66, -0.63, -0.60, -0.58, -0.55, -0.52, -0.50, -0.50, -0.52, -0.54, -0.56, -0.57, -0.58, -0.58, -0.57, -0.56, -0.56, -0.56, -0.56, -0.57, -0.58, -0.60, -0.62, -0.62, -0.62, -0.61, -0.60, -0.60],
    [0, -0.13, -0.26, -0.35, -0.43, -0.51, -0.55, -0.58, -0.60, -0.62, -0.63, -0.64, -0.65, -0.66, -0.67, -0.69, -0.69, -0.70, -0.70, -0.70, -0.69, -0.68, -0.66, -0.64, -0.61, -0.58, -0.56, -0.53, -0.50, -0.48, -0.45, -0.45, -0.45, -0.45, -0.45, -0.45, -0.44, -0.42, -0.40, -0.38, -0.36, -0.35, -0.36, -0.38, -0.40, -0.42, -0.42, -0.42, -0.42, -0.42, -0.42],
]

Z_Y16 = [
    [0, -0.04, -0.10, -0.14, -0.20, -0.22, -0.25, -0.26, -0.26, -0.27, -0.28, -0.28, -0.29, -0.31, -0.32, -0.35, -0.37, -0.39, -0.40, -0.36, -0.31, -0.24, -0.20, -0.19, -0.17, -0.17, -0.16, -0.17, -0.18, -0.20, -0.22, -0.22, -0.24, -0.25, -0.26, -0.28, -0.28, -0.28, -0.28, -0.27, -0.22, -0.17, -0.16, -0.16, -0.16, -0.16, -0.17, -0.18, -0.18, -0.18, -0.17],
    [0, -0.22, -0.38, -0.48, -0.56, -0.60, -0.64, -0.68, -0.70, -0.72, -0.74, -0.76, -0.78, -0.80, -0.85, -1.00, -1.01, -0.98, -0.94, -0.90, -0.87, -0.79, -0.79, -0.79, -0.79, -0.80, -0.78, -0.74, -0.70, -0.68, -0.70, -0.72, -0.72, -0.72, -0.74, -0.78, -0.85, -0.90, -0.98, -1.07, -1.11, -1.13, -1.10, -1.08, -1.05, -1.00, -1.00, -0.98, -0.95, -0.95, -0.97],
    [0, -0.12, -0.27, -0.36, -0.45, -0.51, -0.56, -0.58, -0.61, -0.63, -0.63, -0.64, -0.65, -0.65, -0.65, -0.65, -0.64, -0.61, -0.58, -0.57, -0.58, -0.62, -0.66, -0.70, -0.75, -0.82, -0.90, -0.98, -1.02, -1.06, -1.05, -1.00, -0.93, -0.84, -0.76, -0.72, -0.70, -0.70, -0.72, -0.74, -0.76, -0.78, -0.80, -0.82, -0.85, -0.87, -0.88, -0.89, -0.88, -0.86, -0.84],
    [0, -0.10, -0.22, -0.30, -0.38, -0.43, -0.48, -0.50, -0.53, -0.55, -0.56, -0.57, -0.58, -0.58, -0.58, -0.58, -0.57, -0.54, -0.51, -0.49, -0.46, -0.42, -0.39, -0.37, -0.36, -0.38, -0.40, -0.41, -0.45, -0.48, -0.46, -0.42, -0.44, -0.46, -0.50, -0.54, -0.56, -0.55, -0.52, -0.56, -0.60, -0.64, -0.66, -0.70, -0.74, -0.77, -0.79, -0.80, -0.80, -0.78, -0.74],
    [0, -0.10, -0.22, -0.31, -0.40, -0.45, -0.50, -0.52, -0.55, -0.57, -0.57, -0.58, -0.59, -0.59, -0.59, -0.59, -0.58, -0.55, -0.52, -0.50, -0.47, -0.43, -0.40, -0.37, -0.33, -0.30, -0.28, -0.25, -0.22, -0.18, -0.14, -0.10, -0.04, 0.00, 0.02, -0.01, -0.10, -0.25, -0.35, -0.42, -0.46, -0.48, -0.48, -0.46, -0.44, -0.42, -0.40, -0.36, -0.34, -0.36, -0.38],
    [0, -0.10, -0.23, -0.31, -0.40, -0.45, -0.50, -0.52, -0.55, -0.57, -0.57, -0.58, -0.59, -0.59, -0.58, -0.57, -0.55, -0.50, -0.45, -0.40, -0.34, -0.28, -0.22, -0.16, -0.10, -0.04, -0.02, -0.03, -0.06, -0.10, -0.16, -0.22, -0.28, -0.34, -0.40, -0.45, -0.48, -0.50, -0.52, -0.56, -0.60, -0.62, -0.64, -0.66, -0.68, -0.70, -0.70, -0.70, -0.68, -0.66, -0.64],
    [0, -0.06, -0.18, -0.26, -0.33, -0.38, -0.42, -0.44, -0.46, -0.48, -0.49, -0.50, -0.51, -0.51, -0.51, -0.50, -0.48, -0.45, -0.42, -0.40, -0.38, -0.35, -0.32, -0.30, -0.29, -0.31, -0.33, -0.35, -0.38, -0.41, -0.40, -0.37, -0.39, -0.41, -0.45, -0.48, -0.50, -0.48, -0.46, -0.50, -0.54, -0.58, -0.60, -0.63, -0.66, -0.68, -0.70, -0.70, -0.70, -0.68, -0.66],
    [0, -0.08, -0.20, -0.28, -0.36, -0.41, -0.46, -0.48, -0.51, -0.53, -0.53, -0.54, -0.55, -0.55, -0.55, -0.55, -0.54, -0.51, -0.48, -0.46, -0.43, -0.40, -0.37, -0.35, -0.34, -0.37, -0.40, -0.43, -0.50, -0.58, -0.66, -0.74, -0.80, -0.85, -0.96, -0.98, -0.97, -0.88, -0.80, -0.76, -0.74, -0.74, -0.74, -0.76, -0.78, -0.80, -0.80, -0.80, -0.80, -0.78, -0.76],
    [0, -0.07, -0.19, -0.27, -0.35, -0.40, -0.45, -0.47, -0.50, -0.52, -0.52, -0.53, -0.54, -0.54, -0.54, -0.54, -0.53, -0.50, -0.47, -0.45, -0.42, -0.38, -0.35, -0.33, -0.32, -0.35, -0.37, -0.38, -0.42, -0.45, -0.42, -0.38, -0.40, -0.42, -0.47, -0.51, -0.53, -0.51, -0.48, -0.52, -0.56, -0.60, -0.62, -0.66, -0.70, -0.73, -0.75, -0.76, -0.76, -0.74, -0.70],
    [0, -0.04, -0.14, -0.24, -0.32, -0.37, -0.41, -0.43, -0.45, -0.46, -0.46, -0.46, -0.45, -0.44, -0.42, -0.38, -0.33, -0.29, -0.27, -0.27, -0.24, -0.26, -0.28, -0.30, -0.32, -0.35, -0.37, -0.38, -0.42, -0.45, -0.43, -0.39, -0.41, -0.43, -0.48, -0.52, -0.54, -0.52, -0.49, -0.53, -0.57, -0.61, -0.63, -0.67, -0.71, -0.74, -0.76, -0.77, -0.77, -0.75, -0.71],
    [0, -0.02, -0.07, -0.11, -0.17, -0.22, -0.27, -0.31, -0.33, -0.35, -0.37, -0.38, -0.39, -0.39, -0.38, -0.36, -0.34, -0.32, -0.30, -0.26, -0.21, -0.17, -0.12, -0.11, -0.09, -0.15, -0.20, -0.24, -0.30, -0.34, -0.32, -0.28, -0.30, -0.32, -0.37, -0.41, -0.43, -0.41, -0.38, -0.42, -0.46, -0.50, -0.52, -0.56, -0.60, -0.63, -0.65, -0.66, -0.66, -0.64, -0.60],
    [0, -0.11, -0.25, -0.33, -0.42, -0.47, -0.52, -0.54, -0.57, -0.59, -0.59, -0.60, -0.61, -0.61, -0.61, -0.61, -0.60, -0.57, -0.54, -0.52, -0.49, -0.45, -0.42, -0.40, -0.39, -0.42, -0.44, -0.45, -0.49, -0.52, -0.49, -0.45, -0.47, -0.49, -0.54, -0.58, -0.60, -0.58, -0.55, -0.59, -0.63, -0.67, -0.69, -0.73, -0.77, -0.80, -0.82, -0.83, -0.83, -0.81, -0.77],
    [0, -0.14, -0.29, -0.38, -0.48, -0.54, -0.60, -0.63, -0.66, -0.68, -0.68, -0.70, -0.71, -0.71, -0.71, -0.71, -0.70, -0.67, -0.64, -0.62, -0.59, -0.55, -0.52, -0.50, -0.49, -0.52, -0.54, -0.55, -0.59, -0.62, -0.59, -0.55, -0.57, -0.59, -0.64, -0.68, -0.70, -0.68, -0.65, -0.69, -0.73, -0.77, -0.79, -0.83, -0.87, -0.90, -0.92, -0.93, -0.93, -0.91, -0.87],
    [0, -0.16, -0.33, -0.43, -0.54, -0.62, -0.68, -0.72, -0.76, -0.80, -0.84, -0.93, -0.96, -0.95, -0.96, -0.92, -0.90, -0.88, -0.86, -0.84, -0.82, -0.80, -0.79, -0.74, -0.70, -0.66, -0.62, -0.58, -0.55, -0.52, -0.48, -0.45, -0.42, -0.38, -0.34, -0.30, -0.26, -0.22, -0.17, -0.14, -0.12, -0.11, -0.09, -0.10, -0.11, -0.12, -0.18, -0.24, -0.30, -0.31, -0.30],
    [0, -0.15, -0.31, -0.40, -0.51, -0.57, -0.63, -0.66, -0.69, -0.71, -0.71, -0.73, -0.74, -0.74, -0.74, -0.74, -0.73, -0.70, -0.67, -0.65, -0.62, -0.58, -0.55, -0.53, -0.52, -0.55, -0.57, -0.58, -0.62, -0.65, -0.62, -0.58, -0.60, -0.62, -0.67, -0.71, -0.73, -0.71, -0.68, -0.72, -0.76, -0.80, -0.82, -0.86, -0.88, -0.90, -0.91, -0.92, -0.91, -0.89, -0.86],
    [0, -0.20, -0.43, -0.55, -0.65, -0.74, -0.70, -0.68, -0.68, -0.68, -0.68, -0.69, -0.70, -0.70, -0.70, -0.70, -0.69, -0.66, -0.63, -0.61, -0.58, -0.54, -0.51, -0.49, -0.48, -0.51, -0.53, -0.54, -0.58, -0.61, -0.58, -0.54, -0.56, -0.58, -0.63, -0.67, -0.69, -0.72, -0.76, -0.82, -0.90, -1.05, -1.10, -1.16, -1.18, -1.18, -1.13, -1.05, -1.00, -0.98, -0.95],
    [0, -0.14, -0.30, -0.42, -0.52, -0.60, -0.72, -0.74, -0.78, -0.80, -0.82, -0.84, -0.85, -0.86, -0.88, -0.90, -0.88, -0.86, -0.84, -0.82, -0.80, -0.78, -0.72, -0.66, -0.60, -0.58, -0.58, -0.60, -0.62, -0.64, -0.62, -0.60, -0.62, -0.64, -0.66, -0.70, -0.72, -0.74, -0.76, -0.80, -0.84, -0.88, -0.92, -0.95, -0.98, -1.00, -1.02, -1.04, -1.06, -1.08, -1.09],
    [0, -0.12, -0.27, -0.35, -0.45, -0.50, -0.55, -0.58, -0.61, -0.63, -0.63, -0.64, -0.65, -0.65, -0.65, -0.65, -0.64, -0.61, -0.58, -0.56, -0.53, -0.50, -0.48, -0.46, -0.48, -0.52, -0.54, -0.56, -0.60, -0.63, -0.60, -0.56, -0.58, -0.60, -0.65, -0.69, -0.71, -0.69, -0.66, -0.70, -0.74, -0.78, -0.80, -0.84, -0.88, -0.92, -0.95, -0.97, -0.96, -0.94, -0.90],
    [0, -0.10, -0.23, -0.31, -0.40, -0.45, -0.50, -0.52, -0.55, -0.57, -0.57, -0.58, -0.59, -0.59, -0.59, -0.59, -0.58, -0.55, -0.52, -0.50, -0.47, -0.43, -0.40, -0.38, -0.37, -0.40, -0.42, -0.43, -0.47, -0.50, -0.47, -0.43, -0.45, -0.47, -0.52, -0.56, -0.58, -0.56, -0.53, -0.57, -0.61, -0.65, -0.67, -0.71, -0.75, -0.78, -0.80, -0.81, -0.81, -0.79, -0.75],
    [0, -0.11, -0.25, -0.33, -0.42, -0.47, -0.52, -0.54, -0.57, -0.59, -0.59, -0.60, -0.61, -0.61, -0.61, -0.61, -0.60, -0.57, -0.54, -0.52, -0.49, -0.45, -0.42, -0.40, -0.39, -0.38, -0.36, -0.33, -0.30, -0.26, -0.22, -0.18, -0.15, -0.12, -0.10, -0.06, -0.06, -0.06, -0.06, -0.09, -0.18, -0.26, -0.30, -0.40, -0.50, -0.58, -0.62, -0.64, -0.66, -0.66, -0.64],
    [0, -0.10, -0.24, -0.32, -0.41, -0.46, -0.51, -0.53, -0.56, -0.58, -0.58, -0.59, -0.60, -0.60, -0.60, -0.60, -0.59, -0.56, -0.53, -0.51, -0.48, -0.44, -0.41, -0.39, -0.38, -0.41, -0.43, -0.44, -0.48, -0.51, -0.48, -0.44, -0.46, -0.48, -0.53, -0.57, -0.59, -0.57, -0.54, -0.58, -0.62, -0.66, -0.68, -0.72, -0.76, -0.79, -0.81, -0.82, -0.82, -0.80, -0.76],
    [0, -0.12, -0.26, -0.34, -0.43, -0.48, -0.53, -0.55, -0.58, -0.60, -0.60, -0.61, -0.62, -0.62, -0.62, -0.62, -0.61, -0.58, -0.55, -0.53, -0.50, -0.46, -0.43, -0.41, -0.40, -0.43, -0.45, -0.46, -0.50, -0.53, -0.50, -0.46, -0.48, -0.50, -0.55, -0.59, -0.61, -0.59, -0.56, -0.60, -0.64, -0.68, -0.70, -0.74, -0.78, -0.81, -0.83, -0.84, -0.84, -0.82, -0.78],
    [0, -0.11, -0.24, -0.32, -0.40, -0.45, -0.50, -0.52, -0.55, -0.57, -0.57, -0.58, -0.59, -0.59, -0.59, -0.59, -0.58, -0.55, -0.52, -0.50, -0.47, -0.43, -0.40, -0.38, -0.37, -0.40, -0.42, -0.43, -0.47, -0.50, -0.47, -0.43, -0.45, -0.47, -0.52, -0.56, -0.58, -0.56, -0.53, -0.57, -0.61, -0.65, -0.67, -0.71, -0.75, -0.78, -0.80, -0.81, -0.81, -0.79, -0.75],
    [0, -0.13, -0.27, -0.36, -0.45, -0.50, -0.55, -0.57, -0.60, -0.62, -0.62, -0.63, -0.64, -0.64, -0.64, -0.64, -0.63, -0.60, -0.57, -0.55, -0.52, -0.48, -0.45, -0.44, -0.44, -0.48, -0.52, -0.56, -0.62, -0.70, -0.75, -0.80, -0.90, -1.01, -1.09, -1.15, -1.16, -1.15, -1.09, -1.04, -0.95, -0.86, -0.82, -0.84, -0.86, -0.88, -0.88, -0.89, -0.88, -0.86, -0.84],
    [0, -0.14, -0.30, -0.40, -0.52, -0.60, -0.74, -0.80, -0.84, -0.86, -0.83, -0.78, -0.75, -0.72, -0.70, -0.68, -0.66, -0.63, -0.60, -0.58, -0.55, -0.51, -0.48, -0.46, -0.45, -0.48, -0.50, -0.51, -0.55, -0.58, -0.55, -0.51, -0.53, -0.55, -0.60, -0.64, -0.66, -0.64, -0.61, -0.65, -0.69, -0.73, -0.75, -0.79, -0.83, -0.86, -0.88, -0.89, -0.89, -0.87, -0.83],
]

PANELS = [Z_Y4, Z_Y7, Z_Y10, Z_Y16]

# sanity check on the hand-entered tables
for p, panel in enumerate(PANELS):
    for s, series in enumerate(panel):
        if len(series) != len(X_POS):
            raise ValueError(f"panel {p} series {s} has {len(series)} values")

X_TICKS = [0, 0.1, 0.2, 0.3, 0.4, 0.5, 0.6, 0.7, 0.8, 0.9, 1]
X_TICKTEXT = ["0", "0.1", "0.2", "0.3", "0.4", "0.5", "0.6", "0.7", "0.8", "0.9", "1"]
Y_TICKS = [-2, -1, 0, 1]
Y_TICKTEXT = ["-2", "-1", "0", "1"]

# ---- page geometry (pixels) ----
W, H = 879, 1598
PLOT_L, PLOT_R = 65, 871
PANEL_TOPS = [6, 355, 704, 1052]
PANEL_H = 277
FONT = "Liberation Serif, Times New Roman, Times, serif"
AXIS_GREY = "#858585"
GRID_GREY = "#a8a8a8"

# legend block below the panels: 4 columns of up to 7 entries
LEG_ROWS = 7
LEG_SYM_X = [218, 337, 455, 577]      # symbol centre of each column (px)
LEG_ROW0 = [1437, 1437, 1437, 1440]   # first-row centre of each column (px)
LEG_DY = 24.6                         # row pitch (px)
LEG_TEXT_GAP = 22                     # symbol centre -> text start (px)
LEG_BOX = [150, 720, 1400, 1598]      # x0, x1, y0, y1 of the legend area (px)

fig = go.Figure()

for p, panel in enumerate(PANELS):
    ax = "" if p == 0 else str(p + 1)
    for s, series in enumerate(panel):
        fig.add_trace(go.Scatter(
            x=X_POS, y=series, mode="markers", name=TIMES[s],
            xaxis="x" + ax, yaxis="y" + ax,
            marker=dict(symbol=SYMBOLS[s], size=9, color=COLORS[s],
                        line=dict(width=1, color=COLORS[s])),
            cliponaxis=False, showlegend=False,
        ))

layout = dict(
    width=W, height=H, autosize=False,
    margin=dict(l=0, r=0, t=0, b=0),
    paper_bgcolor="white", plot_bgcolor="rgba(0,0,0,0)",
    font=dict(family=FONT, size=18, color="black"),
    showlegend=False,
    annotations=[],
)

for p in range(4):
    ax = "" if p == 0 else str(p + 1)
    top = PANEL_TOPS[p]
    bottom = top + PANEL_H
    common = dict(
        showline=True, linecolor=AXIS_GREY, linewidth=1, mirror=False,
        ticks="inside", ticklen=5, tickcolor=AXIS_GREY,
        showgrid=True, gridcolor=GRID_GREY, gridwidth=1, griddash="1px,3px",
        zeroline=False, tickfont=dict(family=FONT, size=18, color="black"),
    )
    layout["xaxis" + ax] = dict(
        domain=[PLOT_L / W, PLOT_R / W], anchor="y" + ax, range=[0, 1],
        tickmode="array", tickvals=X_TICKS, ticktext=X_TICKTEXT,
        ticklabelstandoff=-1, **common,
    )
    layout["yaxis" + ax] = dict(
        domain=[1 - bottom / H, 1 - top / H], anchor="x" + ax, range=[-2.5, 1.5],
        tickmode="array", tickvals=Y_TICKS, ticktext=Y_TICKTEXT,
        ticklabelstandoff=-2, **common,
    )
    # panel tag
    box_w = 104 if len(PANEL_LABELS[p]) <= 7 else 115
    layout["annotations"].append(dict(
        xref="x" + ax + " domain", yref="y" + ax + " domain",
        x=(72 - PLOT_L) / (PLOT_R - PLOT_L), y=(PANEL_H - 9) / PANEL_H,
        xanchor="left", yanchor="top", showarrow=False,
        text=PANEL_LABELS[p], font=dict(family=FONT, size=22, color="black"),
        bordercolor="#7a7a7a", borderwidth=1, borderpad=1, bgcolor="white",
        width=box_w, height=27, align="center", valign="middle",
    ))
    # y-axis title
    layout["annotations"].append(dict(
        xref="paper", yref="paper", x=25 / W, y=1 - (top + 138) / H,
        xanchor="center", yanchor="middle", showarrow=False, textangle=-90,
        text="Z/|Z<sub><i>min</i></sub>|", font=dict(family=FONT, size=21, color="black"),
    ))
    # x-axis title, centred under the axis
    layout["annotations"].append(dict(
        xref="paper", yref="paper", x=((PLOT_L + PLOT_R) / 2) / W, y=1 - (bottom + 37) / H,
        xanchor="center", yanchor="middle", showarrow=False,
        text="X/L<sub><i>tot</i></sub>", font=dict(family=FONT, size=20, color="black"),
    ))

# legend area: an invisible pixel-scaled axis pair below the panels
layout["xaxis5"] = dict(domain=[LEG_BOX[0] / W, LEG_BOX[1] / W], range=[LEG_BOX[0], LEG_BOX[1]],
                        anchor="y5", visible=False, fixedrange=True)
layout["yaxis5"] = dict(domain=[1 - LEG_BOX[3] / H, 1 - LEG_BOX[2] / H], range=[LEG_BOX[3], LEG_BOX[2]],
                        anchor="x5", visible=False, fixedrange=True)

for s, label in enumerate(TIMES):
    col, row = divmod(s, LEG_ROWS)
    key_x = LEG_SYM_X[col]
    key_y = LEG_ROW0[col] + row * LEG_DY
    fig.add_trace(go.Scatter(
        x=[key_x], y=[key_y], mode="markers", name=label,
        xaxis="x5", yaxis="y5", hoverinfo="skip", showlegend=False,
        marker=dict(symbol=SYMBOLS[s], size=9, color=COLORS[s],
                    line=dict(width=1, color=COLORS[s])),
        cliponaxis=False,
    ))
    layout["annotations"].append(dict(
        xref="x5", yref="y5", x=key_x + LEG_TEXT_GAP, y=key_y,
        xanchor="left", yanchor="middle", showarrow=False,
        text=label, font=dict(family=FONT, size=18.5, color="black"),
    ))

fig.update_layout(**layout)
fig.write_html("out.html")
